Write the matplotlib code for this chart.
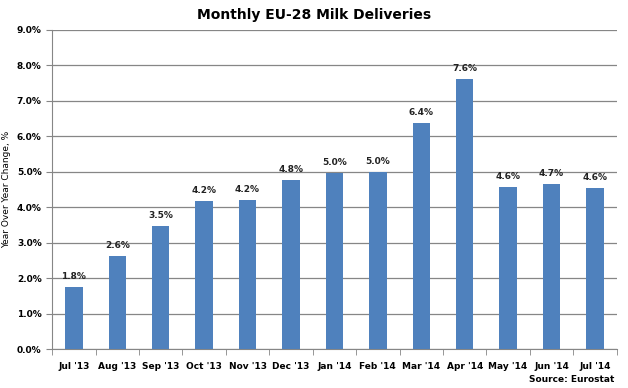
import matplotlib
matplotlib.use("Agg")
import matplotlib.pyplot as plt
from matplotlib.ticker import FuncFormatter, MultipleLocator

months = ["Jul '13", "Aug '13", "Sep '13", "Oct '13", "Nov '13", "Dec '13", "Jan '14",
          "Feb '14", "Mar '14", "Apr '14", "May '14", "Jun '14", "Jul '14"]
yoy_change = [1.75, 2.61, 3.46, 4.16, 4.19, 4.76, 4.95, 5.0, 6.38, 7.62, 4.58, 4.66, 4.55]
labels = ["1.8%", "2.6%", "3.5%", "4.2%", "4.2%", "4.8%", "5.0%", "5.0%", "6.4%", "7.6%",
          "4.6%", "4.7%", "4.6%"]

plt.rcParams['font.family'] = ['DejaVu Sans']

fig = plt.figure(figsize=(6.28, 3.88), dpi=100)
ax = fig.add_axes([0.083, 0.1005, 0.899, 0.8225])

x = range(len(months))
ax.bar(x, yoy_change, width=0.4, color="#4F81BD", zorder=3)
for i, (v, lab) in enumerate(zip(yoy_change, labels)):
    ax.text(i, v + 0.17, lab, ha="center", va="bottom", fontsize=6.5, fontweight="bold", color="#222222")

ax.set_xlim(-0.5, len(months) - 0.5)
ax.set_ylim(0, 9)
ax.yaxis.set_major_locator(MultipleLocator(1))
ax.yaxis.set_major_formatter(FuncFormatter(lambda v, p: f"{v:.1f}%"))
ax.grid(axis="y", color="#868686", linewidth=0.9, zorder=0)

ax.set_xticks(list(x))
ax.set_xticklabels(months, fontsize=6.5, fontweight="bold")
ax.tick_params(axis="x", length=0, pad=9)
ax.set_xticks([i + 0.5 for i in range(-1, len(months))], minor=True)
ax.tick_params(axis="x", which="minor", length=4, color="#868686")
ax.tick_params(axis="y", labelsize=6.5, length=4, color="#868686")
for lab in ax.get_yticklabels():
    lab.set_fontweight("bold")

for s in ["top", "right"]:
    ax.spines[s].set_visible(False)
ax.spines["left"].set_color("#868686")
ax.spines["bottom"].set_color("#868686")

ax.set_ylabel("Year Over Year Change, %", fontsize=6.5)
fig.text(0.5, 0.962, "Monthly EU-28 Milk Deliveries", ha="center", va="center",
         fontsize=10, fontweight="bold")
fig.text(0.978, 0.022, "Source: Eurostat", ha="right", va="center", fontsize=6.5, fontweight="bold")

fig.savefig("out.png", dpi=100)
